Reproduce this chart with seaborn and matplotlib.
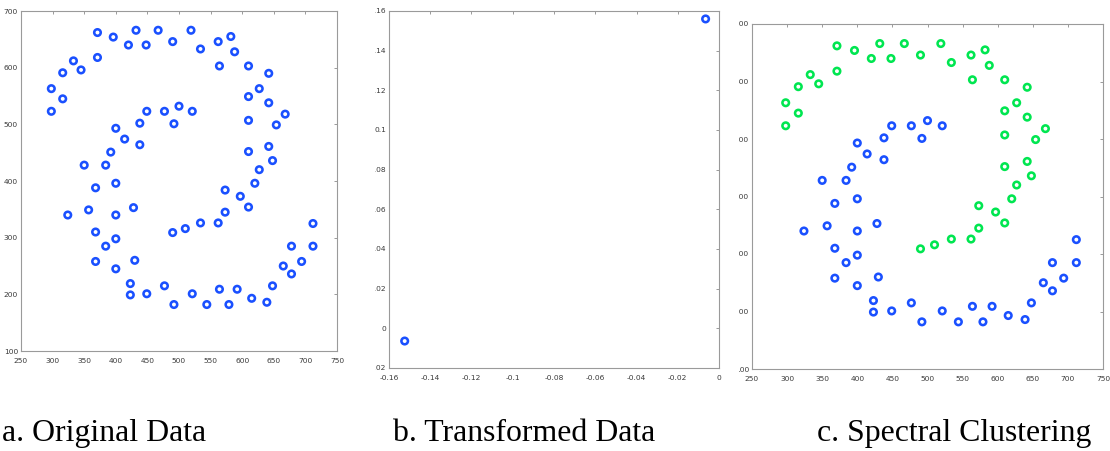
import numpy as np
import pandas as pd
import matplotlib
matplotlib.use("Agg")
import matplotlib.pyplot as plt
from matplotlib.transforms import Bbox, TransformedBbox
from matplotlib.ticker import FormatStrFormatter
import seaborn as sns

# ---- data ---------------------------------------------------------------
# two-ring point set (outer ring -> cluster 1, inner arc + lower arc -> cluster 2)
pts_x = [371, 396, 432, 420, 448, 467, 490, 519, 534, 562, 582, 588, 564, 610,
         642, 627, 610, 642, 668, 654, 610, 642, 610, 648, 627, 620, 573, 597,
         610, 573, 562, 534, 510, 490, 298, 298, 316, 316, 333, 345, 371,
         712, 712, 678, 694, 665, 678, 648, 639, 615, 592, 579, 564, 544, 521,
         492, 477, 449, 423, 423, 430, 400, 368, 384, 400, 368, 324, 357, 400,
         428, 368, 400, 350, 384, 392, 438, 414, 400, 438, 449, 477, 492, 500,
         521]
pts_y = [662, 654, 666, 640, 640, 666, 646, 666, 633, 646, 655, 628, 603, 603,
         590, 563, 549, 538, 518, 499, 507, 461, 452, 436, 420, 396, 384, 373,
         354, 345, 326, 326, 316, 309, 563, 523, 545, 591, 612, 596, 618,
         325, 285, 285, 258, 250, 236, 215, 186, 193, 209, 182, 209, 182, 201,
         182, 215, 201, 199, 219, 260, 245, 258, 285, 298, 310, 340, 349, 340,
         353, 388, 396, 428, 428, 451, 464, 474, 493, 502, 523, 523, 501, 532,
         523]
cluster = [1] * 41 + [2] * 43

# embedding of the two groups
emb_x = [-0.1524, -0.0065]
emb_y = [-0.0064, 0.156]

ring_ticks = [250, 300, 350, 400, 450, 500, 550, 600, 650, 700, 750]
ring_yticks = [100, 200, 300, 400, 500, 600, 700]
emb_xticks = [-0.16, -0.14, -0.12, -0.1, -0.08, -0.06, -0.04, -0.02, 0]
emb_yticks = [-0.02, 0, 0.02, 0.04, 0.06, 0.08, 0.1, 0.12, 0.14, 0.16]

captions = ["a. Original Data", "b. Transformed Data", "c. Spectral Clustering"]

BLUE = "#1a50ff"
GREEN = "#00e650"

# ---- style --------------------------------------------------------------
sns.set_theme(style="white")
plt.rcParams["axes.unicode_minus"] = False
TICK_FONT = ["Liberation Sans Narrow", "DejaVu Sans"]

df = pd.DataFrame({"x": pts_x, "y": pts_y, "cluster": cluster})
emb = pd.DataFrame({"x": emb_x, "y": emb_y})

fig = plt.figure(figsize=(11.1, 4.51), dpi=100)
W, H = 1110.0, 451.0


def px_axes(left, top, right, bottom):
    return fig.add_axes([left / W, 1 - bottom / H, (right - left) / W,
                         (bottom - top) / H])


ax_a = px_axes(21, 11, 337, 351)
ax_b = px_axes(389, 11, 719, 368)
ax_c = px_axes(752, 24, 1103, 369)

MS = 22      # marker area (pt^2)
MEW = 1.85

sns.scatterplot(data=df, x="x", y="y", ax=ax_a, color=BLUE, facecolor="none",
                edgecolor=BLUE, linewidth=MEW, s=MS, marker="o", legend=False)

sns.scatterplot(data=emb, x="x", y="y", ax=ax_b, color=BLUE, facecolor="none",
                edgecolor=BLUE, linewidth=MEW, s=MS, marker="o", legend=False)

for cid, col in [(1, GREEN), (2, BLUE)]:
    sub = df[df["cluster"] == cid]
    sns.scatterplot(data=sub, x="x", y="y", ax=ax_c, color=col, facecolor="none",
                    edgecolor=col, linewidth=MEW, s=MS, marker="o", legend=False)


def style_axes(ax, xt, yt, fmt=None):
    ax.set_xlim(xt[0], xt[-1])
    ax.set_ylim(yt[0], yt[-1])
    ax.set_xticks(xt)
    ax.set_yticks(yt)
    if fmt:
        ax.xaxis.set_major_formatter(FormatStrFormatter(fmt))
        ax.yaxis.set_major_formatter(FormatStrFormatter(fmt))
    ax.set_xlabel("")
    ax.set_ylabel("")
    for sp in ax.spines.values():
        sp.set_color("#9a9a9a")
        sp.set_linewidth(0.8)
    ax.tick_params(axis="both", which="major", direction="in", length=2.5,
                   width=0.6, color="#8a8a8a", top=True, right=True,
                   labelsize=5.4, labelcolor="#3a3a3a")
    ax.tick_params(axis="x", pad=5.2)
    ax.tick_params(axis="y", pad=2.2)
    for lab in ax.get_xticklabels() + ax.get_yticklabels():
        lab.set_family(TICK_FONT)


style_axes(ax_a, ring_ticks, ring_yticks)
style_axes(ax_b, emb_xticks, emb_yticks, fmt="%g")
style_axes(ax_c, ring_ticks, ring_yticks)

# captions under each panel
cap_x = [2, 393, 817]
for cx, text in zip(cap_x, captions):
    fig.text(cx / W, 1 - 441 / H, text, family=["Liberation Serif", "DejaVu Serif"],
             fontsize=22.9, color="black", ha="left", va="baseline")

# trim tick labels at the edges of each panel's frame
fig.canvas.draw()


def clip_labels(ax, left, top, right, bottom):
    box = TransformedBbox(Bbox.from_extents(left / W, 1 - bottom / H,
                                            right / W, 1 - top / H),
                          fig.transFigure)
    for lab in ax.get_xticklabels() + ax.get_yticklabels():
        lab.set_family(TICK_FONT)
        lab.set_clip_box(box)
        lab.set_clip_on(True)


clip_labels(ax_b, 375, 0, 730, 381)
clip_labels(ax_c, 739, 0, 1110, 386)

fig.savefig("out.png", dpi=100, facecolor="white")
